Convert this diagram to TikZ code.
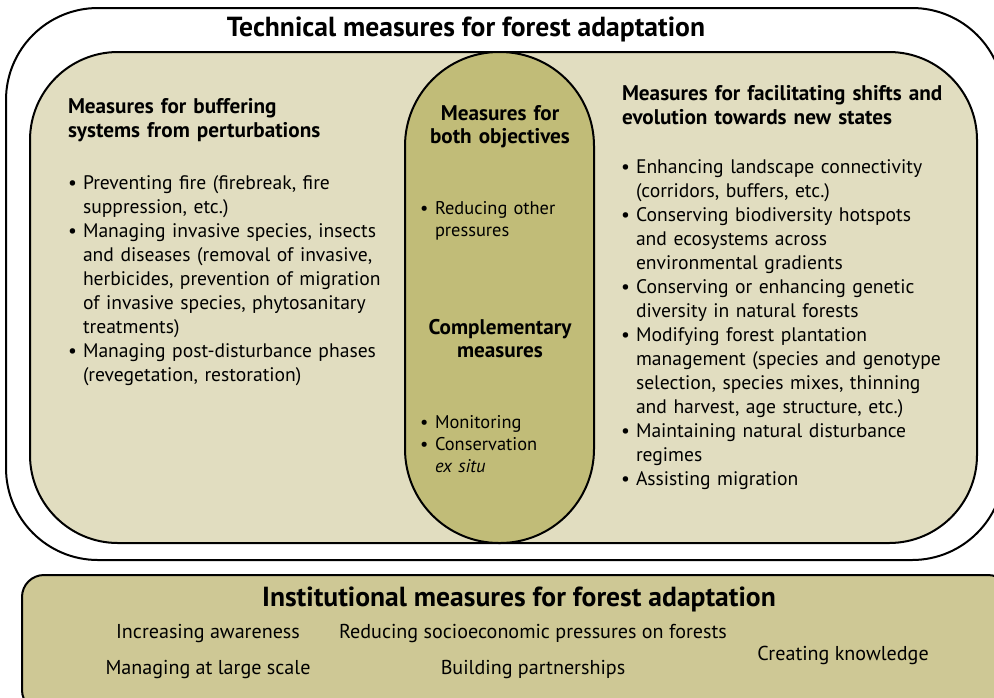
\documentclass[tikz,border=0pt]{standalone}
\usepackage{fontspec}
\setmainfont{PT Sans}
\definecolor{innerfill}{HTML}{E1DDC0}
\definecolor{pillfill}{HTML}{C1BC78}
\definecolor{instfill}{HTML}{CEC895}
\begin{document}
\begin{tikzpicture}[x=0.5pt,y=-0.5pt]
		\tikzstyle{every node}+=[inner sep=0pt, outer sep=0pt]
		\tikzstyle{box}=[draw=black, line width=1pt]
		\tikzstyle{title}=[font=\fontsize{13.8}{16}\selectfont\bfseries, anchor=base]
		\tikzstyle{heading}=[font=\fontsize{10.6}{12}\selectfont\bfseries, text width=190pt, align=left, anchor=base west]
		\tikzstyle{midhead}=[font=\fontsize{10.6}{11.5}\selectfont\bfseries, text width=95pt, align=center, anchor=base]
		\tikzstyle{item}=[font=\fontsize{9.8}{12}\selectfont, text width=180pt, align=left, anchor=base west]
		\tikzstyle{miditem}=[font=\fontsize{9.2}{11}\selectfont, text width=75pt, align=left, anchor=base west]
		\tikzstyle{bul}=[anchor=base west, xshift=-7.5pt]
		\tikzstyle{inst}=[font=\fontsize{10.05}{12}\selectfont, anchor=base]
		\useasboundingbox (0,0) rectangle (994,697);
		% boxes
		\draw [box, rounded corners=46pt] (6,8) rectangle (1004,560);
		\draw [box, fill=innerfill, rounded corners=44pt] (30,52) rectangle (977,543);
		\draw [box, fill=pillfill, rounded corners=47pt] (405,52) rectangle (594,543);
		\draw [box, fill=instfill, rounded corners=11pt] (22,575) rectangle (1010,712);
		% technical measures
		\node [title] (tech) at (466,36) {Technical measures for forest adaptation};
		\node [heading] (buf) at (68,113) {Measures for buffering\\systems from perturbations};
		\node [item] (b1) at (83,189) {Preventing fire (firebreak, fire\\suppression, etc.)};
		\node [item] (b2) at (83,237) {Managing invasive species, insects\\and diseases (removal of invasive,\\herbicides, prevention of migration\\of invasive species, phytosanitary\\treatments)};
		\node [item] (b3) at (83,357) {Managing post-disturbance phases\\(revegetation, restoration)};
		\foreach \n in {b1,b2,b3}
			\node [item, bul] at (\n.base west) {\textbullet};
		\node [midhead] (both) at (500,120) {Measures for\\both objectives};
		\node [miditem] (m1) at (435,214) {Reducing other\\pressures};
		\node [midhead] (compl) at (500,334) {Complementary\\measures};
		\node [miditem] (m2) at (435,428) {Monitoring};
		\node [miditem] (m3) at (435,450) {Conservation\\\emph{ex situ}};
		\foreach \n in {m1,m2,m3}
			\node [miditem, bul] at (\n.base west) {\textbullet};
		\node [heading] (shift) at (622,100) {Measures for facilitating shifts and\\evolution towards new states};
		\node [item] (r1) at (636,173) {Enhancing landscape connectivity\\(corridors, buffers, etc.)};
		\node [item] (r2) at (636,221) {Conserving biodiversity hotspots\\and ecosystems across\\environmental gradients};
		\node [item] (r3) at (636,293) {Conserving or enhancing genetic\\diversity in natural forests};
		\node [item] (r4) at (636,341) {Modifying forest plantation\\management (species and genotype\\selection, species mixes, thinning\\and harvest, age structure, etc.)};
		\node [item] (r5) at (636,437) {Maintaining natural disturbance\\regimes};
		\node [item] (r6) at (636,485) {Assisting migration};
		\foreach \n in {r1,r2,r3,r4,r5,r6}
			\node [item, bul] at (\n.base west) {\textbullet};
		% institutional measures
		\node [title] (instit) at (519,606) {Institutional measures for forest adaptation};
		\node [inst] (aware) at (208,638) {Increasing awareness};
		\node [inst] (socio) at (533,638) {Reducing socioeconomic pressures on forests};
		\node [inst] (scale) at (208,674) {Managing at large scale};
		\node [inst] (partner) at (533,674) {Building partnerships};
		\node [inst] (know) at (843,660) {Creating knowledge};
\end{tikzpicture}
\end{document}
